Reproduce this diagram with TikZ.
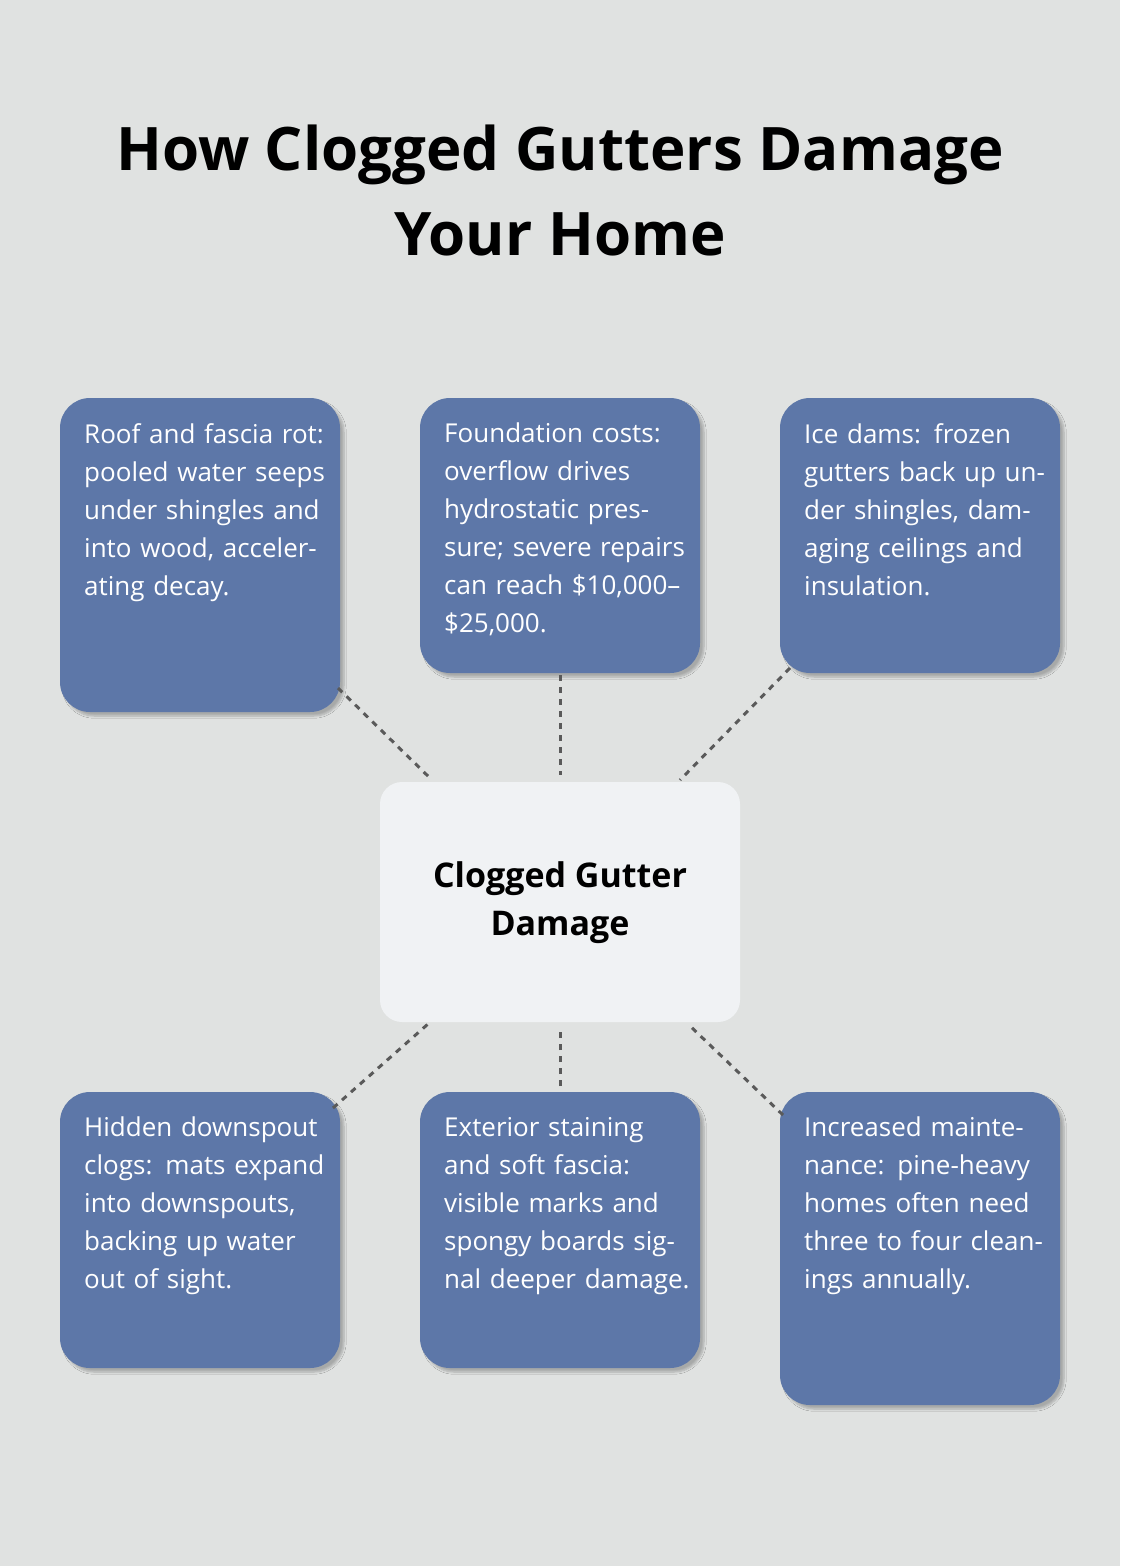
\documentclass[tikz,border=0pt]{standalone}
\usepackage{fontspec}
\setmainfont{Open Sans}
\usetikzlibrary{shadows.blur}
\definecolor{bg}{HTML}{E0E2E1}
\definecolor{boxc}{HTML}{5D77A8}
\definecolor{cen}{HTML}{F0F2F4}
\definecolor{dl}{HTML}{5A5A5A}
\tikzset{
 card/.style={fill=boxc,rounded corners=30pt,blur shadow={shadow blur steps=6,shadow xshift=4pt,shadow yshift=-4pt,shadow opacity=25}},
 txt/.style={anchor=north west,inner sep=0,text width=250pt,align=left,text=white,font=\fontsize{26}{38}\selectfont},
 conn/.style={draw=dl,line width=3pt,dash pattern=on 6pt off 6pt}
}
\begin{document}
\begin{tikzpicture}[x=1pt,y=-1pt]
\fill[bg] (0,0) rectangle (1120,1566);
\node (title) at (560,190) [align=center,font=\fontsize{60}{85}\selectfont\bfseries] {How Clogged Gutters Damage\\Your Home};
\fill[card] (60,398) rectangle (340,712);
\fill[card] (420,398) rectangle (700,673);
\fill[card] (780,398) rectangle (1060,673);
\fill[card] (60,1092) rectangle (340,1368);
\fill[card] (420,1092) rectangle (700,1368);
\fill[card] (780,1092) rectangle (1060,1405);
\fill[cen,rounded corners=22pt] (380,782) rectangle (740,1022);
\node (c) at (560,903) [align=center,font=\fontsize{34}{48}\selectfont\bfseries] {Clogged Gutter\\Damage};
\node (t1) at (84,423) [txt] {Roof and fascia rot: pooled water seeps under shingles and into wood, accelerating decay.};
\node (t2) at (444,423) [txt] {Foundation costs: overflow drives hydrostatic pressure; severe repairs can reach \$10,000–\$25,000.};
\node (t3) at (804,423) [txt] {Ice dams: frozen gutters back up under shingles, damaging ceilings and insulation.};
\node (t4) at (84,1117) [txt] {Hidden downspout clogs: mats expand into downspouts, backing up water out of sight.};
\node (t5) at (444,1117) [txt] {Exterior staining and soft fascia: visible marks and spongy boards signal deeper damage.};
\node (t6) at (804,1117) [txt] {Increased maintenance: pine-heavy homes often need three to four cleanings annually.};
\coordinate (a1) at (338,688); \coordinate (b1) at (432,780);
\coordinate (a2) at (560,675); \coordinate (b2) at (560,775);
\coordinate (a3) at (790,668); \coordinate (b3) at (680,780);
\coordinate (a4) at (333,1108); \coordinate (b4) at (428,1024);
\coordinate (a5) at (560,1086); \coordinate (b5) at (560,1030);
\coordinate (a6) at (783,1115); \coordinate (b6) at (688,1024);
\foreach \i in {1,...,6} \draw[conn] (a\i) -- (b\i);
\end{tikzpicture}
\end{document}
